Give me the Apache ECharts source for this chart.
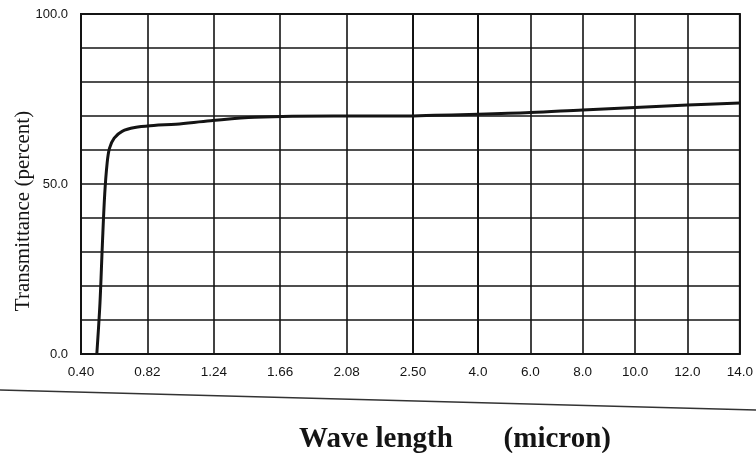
<!DOCTYPE html>
<html lang="en">
<head>
<meta charset="UTF-8">
<title>Transmittance</title>
<script src="https://cdn.jsdelivr.net/npm/echarts@6/dist/echarts.min.js"></script>
<style>
    html, body { margin: 0; padding: 0; background: #fff; }
    #chart { width: 756px; height: 453px; }
</style>
</head>
<body>
<div id="chart"></div>
<script>
// values: wavelength (micron) / transmittance (percent)
var waveLength = [0.50, 0.52, 0.535, 0.55, 0.565, 0.58, 0.61, 0.66, 0.74, 0.86, 1.00, 1.22, 1.50, 2.00, 2.50, 3.00, 4.00, 6.00, 8.00, 10.0, 12.0, 14.0];
var transmit = [0, 15, 32, 47, 56, 60.5, 63.5, 65.5, 66.6, 67.2, 67.6, 68.6, 69.6, 70, 70, 70.2, 70.5, 71, 71.8, 72.5, 73.2, 73.8];

// the x axis is drawn in three linear pieces
var ticksShort = [0.40, 0.82, 1.24, 1.66, 2.08, 2.50];
var ticksMid = [2.50, 4.0];
var ticksLong = [4.0, 6.0, 8.0, 10.0, 12.0, 14.0];
var yLabels = [0, 50, 100];

var ink = '#141414';

function segment(lo, hi) {
    var out = [];
    for (var i = 0; i < waveLength.length; i++) {
        if (waveLength[i] >= lo && waveLength[i] <= hi) out.push([waveLength[i], transmit[i]]);
    }
    return out;
}

function xAxisFor(idx, ticks, digits, showLabel) {
    return {
        type: 'value',
        gridIndex: idx,
        min: ticks[0],
        max: ticks[ticks.length - 1],
        axisLine: {show: false},
        axisTick: {show: false, customValues: ticks},
        splitLine: {show: true, lineStyle: {color: ink, width: 1.6}},
        axisLabel: {
            show: showLabel,
            customValues: ticks,
            margin: 11,
            color: ink,
            fontSize: 13.5,
            fontFamily: 'Liberation Sans',
            formatter: function (v) { return Number(v).toFixed(digits); }
        }
    };
}

function yAxisFor(idx) {
    return {
        type: 'value',
        gridIndex: idx,
        min: 0,
        max: 100,
        interval: 10,
        axisLine: {show: false},
        axisTick: {show: false},
        splitLine: {show: true, lineStyle: {color: ink, width: 1.6}},
        axisLabel: {
            show: idx === 0,
            customValues: yLabels,
            margin: 13,
            color: ink,
            fontSize: 13,
            fontFamily: 'Liberation Sans',
            formatter: function (v) { return Number(v).toFixed(1); }
        }
    };
}

var gridBase = {top: 14, bottom: 99, show: true, borderColor: ink, borderWidth: 2};

var mychart = echarts.init(document.getElementById('chart'));
var option = {
    backgroundColor: '#fff',
    animation: false,
    grid: [
        Object.assign({left: 81, width: 332}, gridBase),
        Object.assign({left: 413, width: 65}, gridBase),
        Object.assign({left: 478, width: 262}, gridBase)
    ],
    xAxis: [
        xAxisFor(0, ticksShort, 2, true),
        xAxisFor(1, ticksMid, 1, false),
        xAxisFor(2, ticksLong, 1, true)
    ],
    yAxis: [yAxisFor(0), yAxisFor(1), yAxisFor(2)],
    series: [
        [0, ticksShort], [1, ticksMid], [2, ticksLong]
    ].map(function (p) {
        var t = p[1];
        return {
            type: 'line',
            xAxisIndex: p[0],
            yAxisIndex: p[0],
            data: segment(t[0], t[t.length - 1]),
            showSymbol: false,
            smooth: 0.35,
            lineStyle: {color: ink, width: 3}
        };
    }),
    graphic: [
        {
            type: 'text',
            x: 23,
            y: 211,
            rotation: Math.PI / 2,
            style: {
                text: 'Transmittance (percent)',
                font: '21px "Liberation Serif"',
                fill: ink,
                align: 'center',
                verticalAlign: 'middle'
            }
        },
        {
            type: 'text',
            x: 455,
            y: 440,
            style: {
                text: 'Wave length       (micron)',
                font: 'bold 29px "Liberation Serif"',
                fill: ink,
                align: 'center',
                verticalAlign: 'middle'
            }
        },
        {
            type: 'line',
            shape: {x1: 0, y1: 390, x2: 756, y2: 410},
            style: {stroke: '#333', lineWidth: 1.4}
        }
    ]
};
mychart.setOption(option);
</script>
</body>
</html>
